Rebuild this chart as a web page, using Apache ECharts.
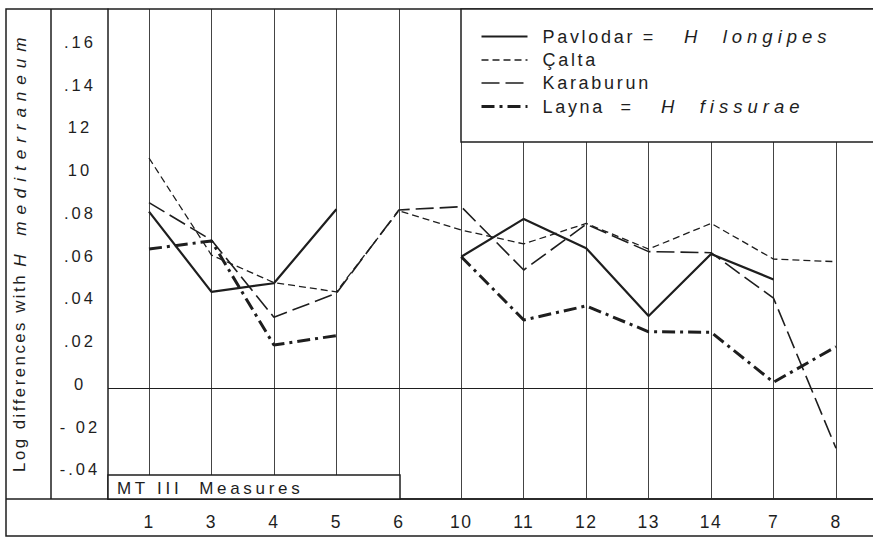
<!DOCTYPE html>
<html><head><meta charset="utf-8">
<script src="https://cdn.jsdelivr.net/npm/echarts@6/dist/echarts.min.js"></script>
<style>
html,body{margin:0;padding:0;background:#fff}
#c{width:873px;height:538px}
/* letter-spaced lettering of the original print, keyed on font size */
#c text{letter-spacing:1.5px}
#c text[style*="16.5px"]{letter-spacing:3px}
#c text[style*="16.8px"]{letter-spacing:2.5px}
#c text[style*="17px"]{letter-spacing:3.7px}
#c text[style*="17.2px"]{letter-spacing:6.9px}
#c text[style*="18px"]{letter-spacing:2.7px}
#c text[style*="18.5px"]{letter-spacing:5px}
</style>
</head><body><div id="c"></div>
<script>
// ---- data ----
const categories = ['1','3','4','5','6','10','11','12','13','14','7','8'];
const pavlodar  = [0.0825,0.0450,0.0490,0.0836,null,0.0614,0.0791,0.0654,0.0337,0.0627,0.0508,null];
const calta     = [0.1076,0.0622,0.0493,0.0450,0.0829,0.0739,0.0674,0.0770,0.0650,0.0770,0.0603,0.0591];
const karaburun = [0.0867,0.0692,0.0331,0.0443,0.0833,0.0848,0.0552,0.0766,0.0638,0.0633,0.0420,-0.0282];
const layna     = [0.0650,0.0688,0.0201,0.0245,null,0.0614,0.0318,0.0384,0.0263,0.0261,0.0027,0.0193];
const yTickValues = [-0.04,-0.02,0,0.02,0.04,0.06,0.08,0.10,0.12,0.14,0.16];
const yTickLabels = ['-.04','- 02','0','.02','.04','.06','.08','10','12','.14','.16'];
const seriesNames = ['Pavlodar','Çalta','Karaburun','Layna'];
const legendLabels = {
  'Pavlodar': 'Pavlodar ={a|H  longipes}',
  'Çalta': 'Çalta',
  'Karaburun': 'Karaburun',
  'Layna': 'Layna  ={b|H  fissurae}'
};
const yTitle = '{n|Log differences with }{i|H mediterraneum}';
const boxLabel = 'MT III  Measures';

// ---- chart ----
const ink = '#1e1e1e';
const FONT = 'Liberation Sans';
const chart = echarts.init(document.getElementById('c'), null, {renderer: 'svg'});
const idx = categories.map((_, i) => i);
const pairs = arr => arr.map((v, i) => v == null ? [i, '-'] : [i, v]);

const styles = {
  'Pavlodar':  {width: 2.2, type: 'solid'},
  'Çalta':     {width: 1.3, type: [7, 4]},
  'Karaburun': {width: 1.6, type: [18, 6]},
  'Layna':     {width: 3.0, type: [13, 5, 3, 5]}
};
const values = {'Pavlodar': pavlodar, 'Çalta': calta, 'Karaburun': karaburun, 'Layna': layna};

const series = seriesNames.map((name, k) => ({
  name, type: 'line', symbol: 'none', showSymbol: false,
  data: pairs(values[name]),
  lineStyle: {color: ink, width: styles[name].width, type: styles[name].type},
  itemStyle: {color: ink},
  z: 2,
  markLine: k === 0 ? {
    silent: true, symbol: 'none', label: {show: false},
    lineStyle: {color: ink, width: 1.2, type: 'solid'},
    data: [{yAxis: 0}]
  } : undefined
}));

const italicLegend = {color: ink, fontSize: 18.5, fontFamily: FONT, fontStyle: 'italic'};

chart.setOption({
  animation: false,
  backgroundColor: '#fff',
  grid: {left: 108, right: 0, top: 9, bottom: 39, containLabel: false},
  xAxis: {
    type: 'value', min: -0.6565, max: 11.5925,
    axisLine: {show: true, onZero: false, lineStyle: {color: ink, width: 1.5}},
    axisTick: {show: true, inside: true, length: 490, customValues: idx, lineStyle: {color: '#444', width: 1}},
    axisLabel: {show: true, customValues: idx, formatter: v => categories[Math.round(v)], margin: 14,
      color: ink, fontSize: 17.5, fontFamily: FONT},
    splitLine: {show: false}
  },
  yAxis: {
    type: 'value', min: -0.05193, max: 0.1773,
    axisLine: {show: true, onZero: false, lineStyle: {color: ink, width: 1.5}},
    axisTick: {show: false},
    splitLine: {show: false},
    axisLabel: {show: true, customValues: yTickValues,
      formatter: v => { const i = yTickValues.findIndex(t => Math.abs(t - v) < 1e-6); return i >= 0 ? yTickLabels[i] : ''; },
      align: 'center', verticalAlign: 'bottom', lineHeight: 8, margin: 28,
      color: ink, fontSize: 16.5, fontFamily: FONT},
    name: yTitle, nameLocation: 'middle', nameGap: 80, nameRotate: 90,
    nameTextStyle: {rich: {
      n: {fontSize: 16.8, fontFamily: FONT, color: ink},
      i: {fontSize: 17.2, fontFamily: FONT, color: ink, fontStyle: 'italic', padding: [0, 20, 0, 77]}
    }}
  },
  legend: {
    data: seriesNames, orient: 'vertical', left: 480, top: 27, z: 10, padding: 0,
    itemWidth: 46, itemHeight: 14, itemGap: 5,
    itemStyle: {opacity: 0},
    lineStyle: {width: 'inherit'},
    formatter: name => legendLabels[name],
    textStyle: {color: ink, fontSize: 18, fontFamily: FONT, lineHeight: 17, padding: [0, 0, 0, 10],
      rich: {
        a: Object.assign({padding: [0, 0, 0, 55]}, italicLegend),
        b: Object.assign({padding: [0, 0, 0, 49]}, italicLegend)
      }}
  },
  graphic: [
    {type: 'rect', silent: true, z: 1, shape: {x: 6, y: 9, width: 880, height: 527}, style: {fill: 'none', stroke: ink, lineWidth: 1.5}},
    {type: 'line', silent: true, z: 1, shape: {x1: 51, y1: 9, x2: 51, y2: 499}, style: {stroke: ink, lineWidth: 1.5}},
    {type: 'line', silent: true, z: 1, shape: {x1: 6, y1: 499, x2: 873, y2: 499}, style: {stroke: ink, lineWidth: 1.5}},
    {type: 'rect', silent: true, z: 5, shape: {x: 461, y: 9, width: 430, height: 133}, style: {fill: '#fff', stroke: ink, lineWidth: 1.5}},
    {type: 'rect', silent: true, z: 5, shape: {x: 108, y: 475, width: 292, height: 24}, style: {fill: '#fff', stroke: ink, lineWidth: 1.5}},
    {type: 'text', silent: true, z: 6, x: 117, y: 488, style: {text: boxLabel, fill: ink, fontSize: 17, fontFamily: FONT, verticalAlign: 'middle', align: 'left'}}
  ],
  series
});
</script></body></html>
